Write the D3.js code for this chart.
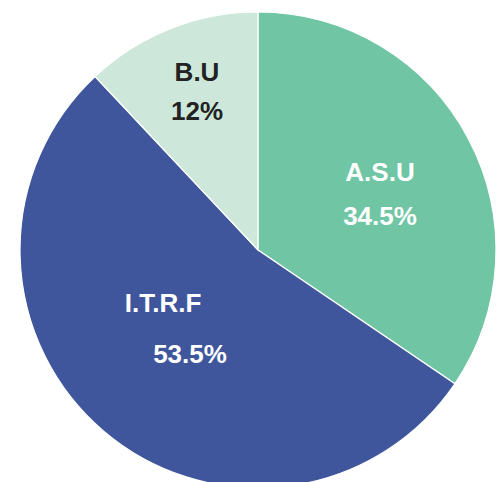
<!DOCTYPE html>
<html><head><meta charset="utf-8">
<script src="https://cdn.jsdelivr.net/npm/d3@7"></script>
<style>html,body{margin:0;padding:0;background:#fff;}svg{display:block;}</style>
</head><body>
<svg id="chart" width="501" height="482"></svg>
<script>
const categories = ["A.S.U", "I.T.R.F", "B.U"];
const values = [34.5, 53.5, 12];
const valueLabels = ["34.5%", "53.5%", "12%"];
const colors = ["#70C6A4", "#3F569C", "#CDE8DB"];
const textColors = ["#ffffff", "#ffffff", "#222222"];
// label placement: [name x, name baseline, value x, value baseline] offsets from centre
const labelPos = [[122, -69, 122, -25], [-95, 62, -68, 113], [-61, -169, -61, -130]];

const svg = d3.select("#chart");
const cx = 258, cy = 250, r = 238;
const g = svg.append("g").attr("transform", `translate(${cx},${cy})`);
const pie = d3.pie().sort(null).value(d => d)(values);
const arc = d3.arc().innerRadius(0).outerRadius(r);
const color = d3.scaleOrdinal().domain(categories).range(colors);

g.selectAll("path").data(pie).join("path")
  .attr("d", arc)
  .attr("fill", (d, i) => color(categories[i]))
  .attr("stroke", "#fff").attr("stroke-width", 1.2);

const font = "'Liberation Sans', Arial, sans-serif";
pie.forEach((d, i) => {
  const p = labelPos[i];
  g.append("text").attr("x", p[0]).attr("y", p[1]).attr("text-anchor", "middle")
    .attr("font-family", font).attr("font-weight", "bold").attr("font-size", 26)
    .attr("fill", textColors[i]).text(categories[i]);
  g.append("text").attr("x", p[2]).attr("y", p[3]).attr("text-anchor", "middle")
    .attr("font-family", font).attr("font-weight", "bold").attr("font-size", 26)
    .attr("fill", textColors[i]).text(valueLabels[i]);
});
</script>
</body></html>
